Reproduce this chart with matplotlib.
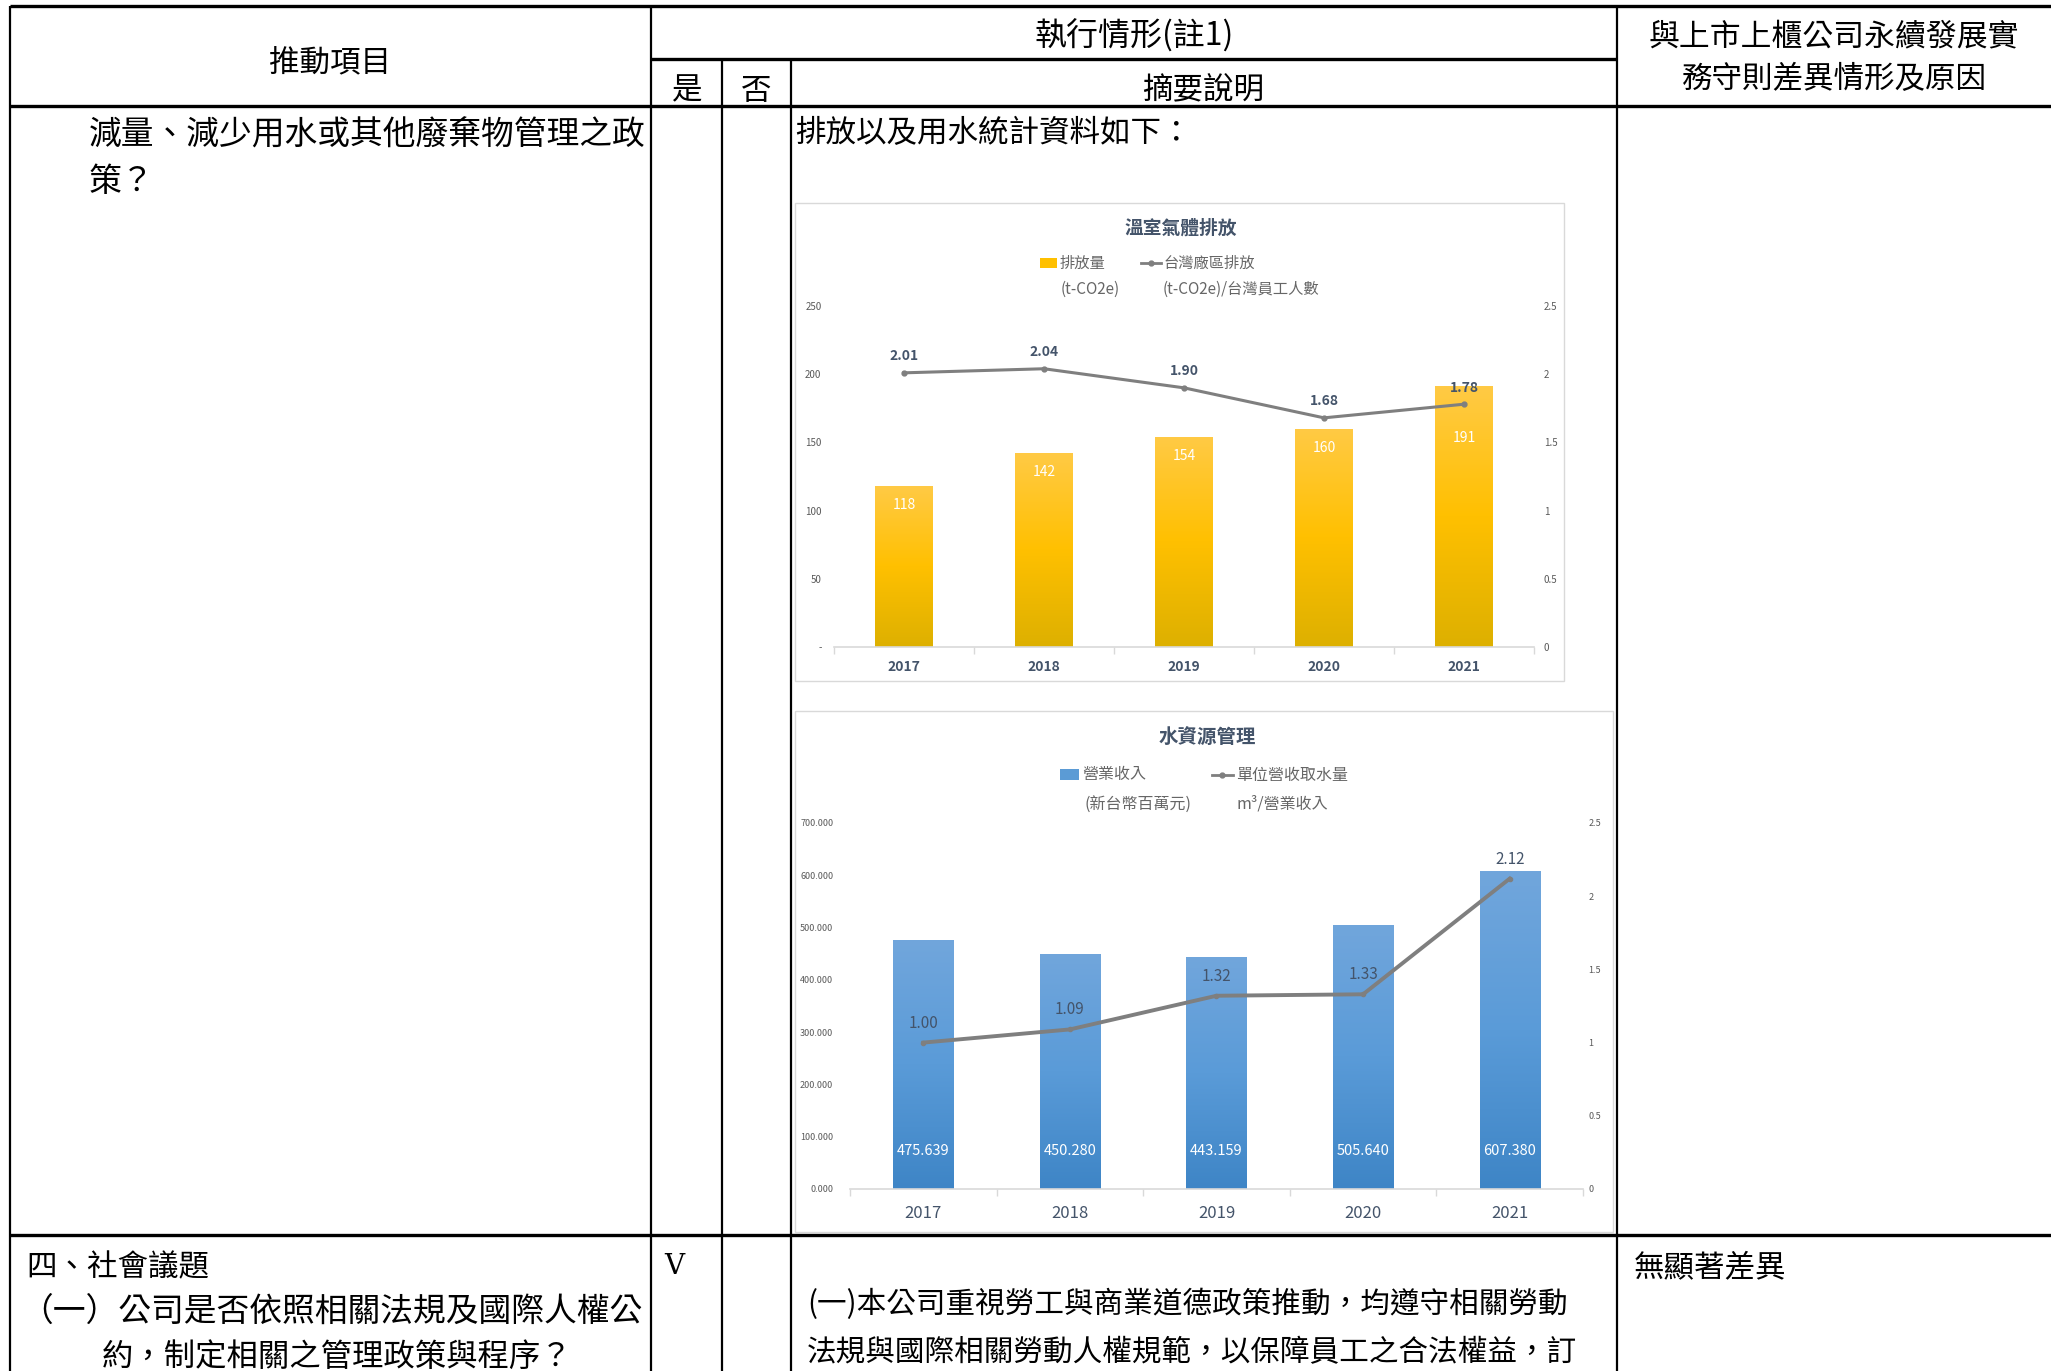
import numpy as np
import matplotlib.pyplot as plt
from matplotlib.colors import LinearSegmentedColormap
from matplotlib.patches import Rectangle
from matplotlib.ticker import FuncFormatter, FixedLocator

plt.rcParams['font.family'] = ['Noto Sans CJK TC', 'DejaVu Sans']

# data
years = ['2017', '2018', '2019', '2020', '2021']
ghg_emission = [118, 142, 154, 160, 191]            # t-CO2e
ghg_per_employee = [2.01, 2.04, 1.90, 1.68, 1.78]   # t-CO2e / employee
revenue = [475.639, 450.280, 443.159, 505.640, 607.380]
water_per_revenue = [1.00, 1.09, 1.32, 1.33, 2.12]

W, H = 2051, 1371
fig = plt.figure(figsize=(W / 100, H / 100), dpi=100)
page = fig.add_axes([0, 0, 1, 1])
page.set_xlim(0, W)
page.set_ylim(H, 0)
page.axis('off')


def rect(x0, y0, x1, y1):
    return [x0 / W, 1 - y1 / H, (x1 - x0) / W, (y1 - y0) / H]


# ---- table grid ----
hl = dict(color='black', lw=2.4, solid_capstyle='butt')
vl = dict(color='black', lw=1.6, solid_capstyle='butt')
page.plot([10, W], [6, 6], **hl)
page.plot([651, 1617], [59, 59], **hl)
page.plot([10, W], [106, 106], **hl)
page.plot([10, W], [1235, 1235], **hl)
page.plot([10, 10], [6, H], **vl)
page.plot([651, 651], [6, H], **vl)
page.plot([722, 722], [59, H], **vl)
page.plot([791, 791], [59, H], **vl)
page.plot([1617, 1617], [6, H], **vl)

tk = dict(color='black', va='center', fontsize=22)
page.text(330, 64, '推動項目', ha='center', **tk)
page.text(1134, 36, '執行情形(註1)', ha='center', color='black', va='center', fontsize=23)
page.text(687, 91, '是', ha='center', **tk)
page.text(756, 91, '否', ha='center', **tk)
page.text(1203, 91, '摘要說明', ha='center', **tk)
page.text(1834, 37, '與上市上櫃公司永續發展實', ha='center', color='black', va='center',
          fontsize=22.2)
page.text(1834, 80, '務守則差異情形及原因', ha='center', **tk)

big = dict(color='black', va='center', ha='left', fontsize=23.6)
page.text(89, 136, '減量、減少用水或其他廢棄物管理之政', **big)
page.text(89, 182, '策？', **big)
page.text(795, 134, '排放以及用水統計資料如下：', ha='left', **tk)

page.text(26, 1268, '四、社會議題', ha='left', **tk)
page.text(20, 1312, '（一）公司是否依照相關法規及國際人權公', **big)
page.text(102, 1357, '約，制定相關之管理政策與程序？', ha='left', color='black', va='center',
          fontsize=22.6)
page.text(674, 1266, 'V', ha='center', color='black', va='center', fontsize=20,
          family='DejaVu Serif')
mid = dict(color='black', va='center', ha='left', fontsize=21.3)
page.text(807, 1304, '(一)本公司重視勞工與商業道德政策推動，均遵守相關勞動', **mid)
page.text(807, 1353, '法規與國際相關勞動人權規範，以保障員工之合法權益，訂', **mid)
page.text(1634, 1268, '無顯著差異', ha='left', **tk)

# ---- chart frames ----
page.add_patch(Rectangle((795, 203), 769, 478, facecolor='white', edgecolor='#D9D9D9', lw=1))
page.add_patch(Rectangle((795, 711), 818, 521, facecolor='white', edgecolor='#D9D9D9', lw=1))

TXT = '#44546A'
LEG = '#666666'
LINE = '#7F7F7F'

# chart titles and legends
page.text(1181, 228, '溫室氣體排放', ha='center', va='center', fontsize=13.5,
          fontweight='bold', color=TXT)
page.add_patch(Rectangle((1040, 258), 17, 10, facecolor='#FFC000', edgecolor='none'))
page.text(1060, 263, '排放量', ha='left', va='center', fontsize=11, color=LEG)
page.plot([1141, 1161], [263, 263], color=LINE, lw=2)
page.plot([1151], [263], 'o', color=LINE, ms=3.5)
page.text(1163, 263, '台灣廠區排放', ha='left', va='center', fontsize=11, color=LEG)
page.text(1090, 289, '(t-CO2e)', ha='center', va='center', fontsize=11, color=LEG)
page.text(1163, 289, '(t-CO2e)/台灣員工人數', ha='left', va='center', fontsize=11, color=LEG)

page.text(1207, 737, '水資源管理', ha='center', va='center', fontsize=14,
          fontweight='bold', color=TXT)
page.add_patch(Rectangle((1060, 769), 19, 11, facecolor='#5B9BD5', edgecolor='none'))
page.text(1082, 775, '營業收入', ha='left', va='center', fontsize=11.5, color=LEG)
page.plot([1212, 1233], [775, 775], color=LINE, lw=2)
page.plot([1222], [775], 'o', color=LINE, ms=3.5)
page.text(1236, 775, '單位營收取水量', ha='left', va='center', fontsize=11.5, color=LEG)
page.text(1138, 804, '(新台幣百萬元)', ha='center', va='center', fontsize=11.5, color=LEG)
page.text(1236, 804, 'm³/營業收入', ha='left', va='center', fontsize=11.5, color=LEG)


def gradient_bars(ax, x, heights, width, stops):
    cmap = LinearSegmentedColormap.from_list('grad', stops)
    bars = ax.bar(x, heights, width, color='none', edgecolor='none')
    grad = np.linspace(0, 1, 256).reshape(-1, 1)
    for b in bars:
        x0 = b.get_x()
        im = ax.imshow(grad, cmap=cmap, origin='lower', aspect='auto', zorder=2,
                       extent=(x0, x0 + b.get_width(), 0, b.get_height()))
        im.set_clip_path(b)
    return bars


def style_axes(ax, axr, ymax, rmax, lfmt, lsize, lpad, rpad, xsize, xpad, xbold):
    xs = np.arange(len(years))
    ax.set_xlim(-0.5, len(years) - 0.5)
    ax.set_ylim(0, ymax)
    axr.set_ylim(0, rmax)
    ax.set_xticks(xs)
    ax.set_xticklabels(years)
    ax.xaxis.set_minor_locator(FixedLocator(np.arange(-0.5, len(years), 1)))
    ax.yaxis.set_major_formatter(FuncFormatter(lfmt))
    axr.yaxis.set_major_formatter(FuncFormatter(lambda v, p: f'{v:g}'))
    for a in (ax, axr):
        a.patch.set_visible(False)
        for s in ('top', 'left', 'right'):
            a.spines[s].set_visible(False)
    axr.spines['bottom'].set_visible(False)
    ax.spines['bottom'].set_color('#D9D9D9')
    ax.spines['bottom'].set_linewidth(1.2)
    ax.tick_params(axis='y', length=0, labelsize=lsize, labelcolor='#595959', pad=lpad)
    axr.tick_params(axis='y', length=0, labelsize=lsize, labelcolor='#595959', pad=rpad)
    ax.tick_params(axis='x', which='major', length=0, labelsize=xsize, labelcolor=TXT, pad=xpad)
    ax.tick_params(axis='x', which='minor', length=5, width=1, color='#D9D9D9')
    if xbold:
        for lbl in ax.get_xticklabels():
            lbl.set_fontweight('bold')


# ---- chart 1: greenhouse gas ----
ax1 = fig.add_axes(rect(834, 306, 1534, 647))
ax1r = ax1.twinx()
xs = np.arange(len(years))
gradient_bars(ax1, xs, ghg_emission, 0.41,
              [(0, '#DDB000'), (0.5, '#FFC000'), (1, '#FFCA45')])
for i, v in enumerate(ghg_emission):
    drop = 38 if i == len(ghg_emission) - 1 else 14
    ax1.text(i, v - drop, f'{v:.0f}', ha='center', va='center', color='white',
             fontsize=10, zorder=5)
ax1r.plot(xs, ghg_per_employee, color=LINE, lw=2.2, marker='o', ms=3.5)
for i, v in enumerate(ghg_per_employee):
    ax1r.annotate(f'{v:.2f}', (i, v), xytext=(0, 12), textcoords='offset points',
                  ha='center', va='center', fontsize=10, fontweight='bold', color=TXT)
style_axes(ax1, ax1r, 250, 2.5, lambda v, p: '-' if v == 0 else f'{v:g}',
           7, 9, 7, 10, 9.5, True)
ax1.set_yticks(np.arange(0, 251, 50))
ax1r.set_yticks(np.arange(0, 2.51, 0.5))

# ---- chart 2: water ----
ax2 = fig.add_axes(rect(850, 823, 1583, 1189))
ax2r = ax2.twinx()
gradient_bars(ax2, xs, revenue, 0.41,
              [(0, '#3E85C6'), (0.5, '#5A9BD8'), (1, '#71A6DC')])
for i, v in enumerate(revenue):
    ax2.text(i, 72, f'{v:.3f}', ha='center', va='center', color='white',
             fontsize=10.5, zorder=5)
ax2r.plot(xs, water_per_revenue, color=LINE, lw=2.8, marker='o', ms=3)
for i, v in enumerate(water_per_revenue):
    ax2r.annotate(f'{v:.2f}', (i, v), xytext=(0, 14), textcoords='offset points',
                  ha='center', va='center', fontsize=11, color=TXT)
style_axes(ax2, ax2r, 700, 2.5, lambda v, p: f'{v:.3f}',
           6.5, 12, 4, 12, 11.5, False)
ax2.set_yticks(np.arange(0, 701, 100))
ax2r.set_yticks(np.arange(0, 2.51, 0.5))

fig.savefig('out.png', dpi=100)
